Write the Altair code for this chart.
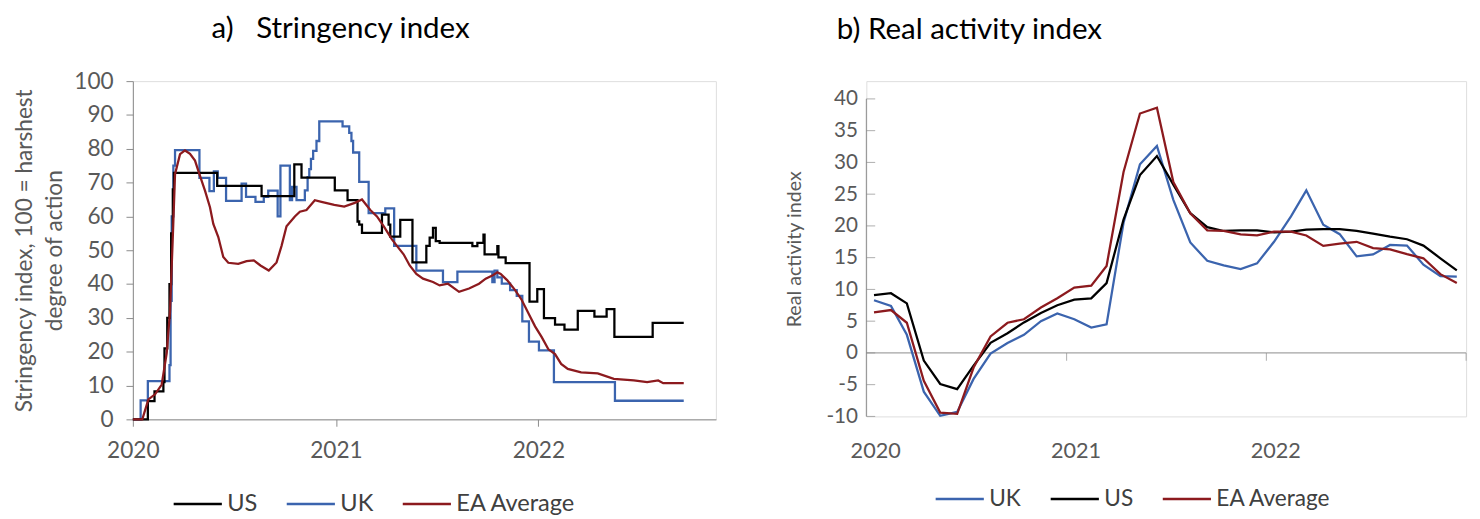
import altair as alt
import pandas as pd

BASE_DATE = "2020-01-01"

# ---- Panel a) Stringency index: (days since 1 Jan 2020, index value)
US_STEPS = [(0, 0), (27, 5.4), (39, 8.3), (55, 11), (57, 21), (62, 30), (66, 40), (69, 55), (72, 68),
            (74, 72.9), (152, 69), (232, 66), (291, 75.4), (304, 71.5), (364, 67.7), (387, 64.8),
            (405, 58.5), (408, 57.6), (413, 55.1), (449, 60.5), (461, 57.6), (464, 54), (482, 59),
            (504, 46.4), (529, 51.3), (535, 53.7), (541, 56.6), (546, 52.7), (553, 52.2), (612, 51.2),
            (621, 52.2), (632, 54.6), (634, 48.8), (657, 51.2), (659, 47.9), (672, 46.2), (715, 34.8),
            (729, 38.5), (741, 29.9), (761, 28), (778, 26.5), (802, 32.1), (832, 30.4), (854, 32.6),
            (868, 24.4), (937, 28.5), (993, 28.5)]

UK_STEPS = [(0, 0), (14, 5.6), (27, 11.3), (66, 16), (68, 35), (70, 60), (73, 75), (76, 79.6),
            (120, 71.4), (138, 67.5), (146, 73.3), (153, 71.4), (168, 64.6), (196, 69.7), (204, 65.8),
            (221, 64.3), (236, 65.8), (244, 67.6), (261, 60.0), (266, 75.0), (283, 64.8), (287, 68.7),
            (295, 64.8), (310, 67.7), (315, 71.6), (318, 74), (321, 77), (325, 79.4), (331, 82.3),
            (336, 88.1), (378, 86.6), (390, 84.7), (394, 82.3), (397, 78.9), (408, 70.2), (425, 61),
            (455, 62.4), (471, 51.3), (511, 44), (559, 40.6), (585, 43.7), (648, 40.6), (652, 44),
            (657, 42), (665, 40.1), (680, 38.2), (692, 36.5), (702, 29), (714, 23), (732, 20.4),
            (759, 11.0), (869, 5.5), (993, 5.5)]

EA_DAILY = [(0, 0), (17, 0), (28, 5.9), (40, 7.4), (52, 10.3), (61, 19.6), (67, 32), (72, 54),
            (76, 72.5), (85, 78.4), (94, 79.5), (103, 78.5), (112, 76.5), (121, 72), (130, 67.6),
            (139, 62.7), (145, 57.8), (154, 53.9), (163, 48), (172, 46.3), (190, 46), (205, 46.8),
            (218, 47), (230, 45.5), (245, 44), (259, 46.4), (268, 51.3), (277, 57.1), (292, 60),
            (301, 61.4), (313, 61.9), (328, 64.8), (340, 64.3), (363, 63.4), (381, 62.9), (400, 64),
            (413, 65), (428, 61.9), (440, 60), (452, 57.1), (467, 53.2), (476, 51.3), (488, 48.8),
            (499, 45.5), (511, 43), (523, 41.6), (541, 40.6), (553, 39.6), (568, 40.1), (588, 37.7),
            (606, 38.7), (624, 40.1), (636, 41.6), (648, 42.5), (657, 43.5), (663, 43), (675, 41.1),
            (689, 38.2), (701, 35.3), (713, 31.4), (725, 27.5), (737, 24.3), (749, 20.7), (761, 19.3),
            (772, 16.4), (784, 14.9), (808, 13.9), (838, 13.6), (867, 12.0), (903, 11.5), (927, 11.0),
            (947, 11.5), (956, 10.7), (993, 10.7)]

# ---- Panel b) Real activity index, monthly Jan 2020 - Dec 2022
MONTHS = [f"{y}-{m:02d}-15" for y in (2020, 2021, 2022) for m in range(1, 13)]
RA_UK = [8.3, 7.4, 2.85, -6.1, -9.9, -9.3, -4.1, -0.1, 1.55, 2.85, 5.0, 6.2,
         5.3, 4.0, 4.5, 20.5, 29.7, 32.6, 24.1, 17.4, 14.5, 13.8, 13.2, 14.1,
         17.5, 21.5, 25.6, 20.2, 18.7, 15.2, 15.5, 17.0, 16.9, 13.9, 12.1, 12.0]
RA_US = [9.1, 9.4, 7.8, -1.2, -4.9, -5.7, -2.0, 1.6, 3.1, 4.8, 6.3, 7.5,
         8.4, 8.6, 11.0, 21.0, 28.0, 31.0, 26.5, 22.0, 19.8, 19.2, 19.3, 19.3,
         19.0, 19.1, 19.4, 19.5, 19.5, 19.2, 18.8, 18.3, 17.9, 16.9, 14.9, 13.0]
RA_EA = [6.4, 6.75, 4.75, -4.4, -9.4, -9.6, -2.3, 2.6, 4.75, 5.3, 7.15, 8.6,
         10.3, 10.6, 13.7, 28.5, 37.7, 38.6, 26.9, 22.0, 19.3, 19.2, 18.65, 18.5,
         19.1, 19.1, 18.5, 16.85, 17.2, 17.5, 16.5, 16.3, 15.55, 14.9, 12.4, 11.0]

LEFT_ORDER = ["US", "UK", "EA Average"]
RIGHT_ORDER = ["UK", "US", "EA Average"]
COLORS = {"US": "#000000", "UK": "#3B64AE", "EA Average": "#8C1A1E"}
LEFT_Y_TICKS = list(range(0, 101, 10))
RIGHT_Y_TICKS = list(range(-10, 41, 5))
RIGHT_Y_RANGE = [-10, 40]
RIGHT_YEAR_TICKS = ["2021-01-01", "2022-01-01", "2023-01-01"]

GRAY = "#8a8a8a"
LABEL = "#595959"
FONT = "Lato"


def daily_frame(pairs, name):
    days, vals = zip(*pairs)
    dates = pd.Timestamp(BASE_DATE) + pd.to_timedelta(list(days), unit="D")
    return pd.DataFrame({"date": dates, "value": list(vals), "series": name})


us_df = daily_frame(US_STEPS, "US")
uk_df = daily_frame(UK_STEPS, "UK")
ea_df = daily_frame(EA_DAILY, "EA Average")

month_dates = pd.to_datetime(MONTHS)
ra_uk = pd.DataFrame({"date": month_dates, "value": RA_UK, "series": "UK"})
ra_us = pd.DataFrame({"date": month_dates, "value": RA_US, "series": "US"})
ra_ea = pd.DataFrame({"date": month_dates, "value": RA_EA, "series": "EA Average"})

years = [alt.DateTime(year=y, month=1, date=1) for y in (2020, 2021, 2022)]

TITLE_STYLE = dict(anchor="start", frame="group", fontSize=30, font=FONT,
                   fontWeight="normal", color="#000000")
LEGEND_STYLE = dict(orient="none", direction="horizontal", title=None, symbolType="stroke",
                    symbolSize=2401, symbolStrokeWidth=2.5, labelFont=FONT,
                    labelColor="#404040", columnPadding=24, labelOffset=4, padding=0)

# ---------------- Left panel ----------------
lx = alt.X("date:T",
           scale=alt.Scale(domain=[alt.DateTime(year=2020, month=1, date=1),
                                   alt.DateTime(year=2022, month=11, date=17)]),
           axis=alt.Axis(values=years, format="%Y", title=None, tickSize=7, labelPadding=14,
                         labelFontSize=23, labelColor=LABEL, domainColor=GRAY, tickColor=GRAY,
                         labelFlush=False, grid=False))
ly = alt.Y("value:Q", scale=alt.Scale(domain=[0, 100], nice=False),
           axis=alt.Axis(values=LEFT_Y_TICKS, title=["Stringency index, 100 = harshest", "degree of action"],
                         titleFontSize=23, titleColor=LABEL, titleFontWeight="normal", titleLineHeight=30,
                         titlePadding=8, tickSize=7, labelPadding=13, labelFontSize=23, labelColor=LABEL,
                         domainColor=GRAY, tickColor=GRAY, grid=False))
lcolor = alt.Color("series:N",
                   scale=alt.Scale(domain=LEFT_ORDER, range=[COLORS[s] for s in LEFT_ORDER]),
                   legend=alt.Legend(legendX=40, legendY=404, labelFontSize=24, **LEGEND_STYLE))

left_uk = alt.Chart(uk_df).mark_line(interpolate="step-after", strokeWidth=2.3).encode(x=lx, y=ly, color=lcolor)
left_us = alt.Chart(us_df).mark_line(interpolate="step-after", strokeWidth=2.3).encode(x=lx, y=ly, color=lcolor)
left_ea = alt.Chart(ea_df).mark_line(strokeWidth=2.3).encode(x=lx, y=ly, color=lcolor)

left = alt.layer(left_uk, left_us, left_ea).properties(
    width=593, height=344,
    title=alt.TitleParams(text="a)\u00a0\u00a0\u00a0Stringency index", dx=80, offset=27, **TITLE_STYLE))

# ---------------- Right panel ----------------
rx = alt.X("date:T",
           scale=alt.Scale(domain=[alt.DateTime(year=2020, month=1, date=1),
                                   alt.DateTime(year=2023, month=1, date=1)]),
           axis=alt.Axis(values=years, format="%Y", title=None, domain=False, ticks=False, tickSize=0,
                         labelPadding=25, labelOffset=9, labelFontSize=22, labelColor=LABEL,
                         labelFlush=False, grid=False))
# scale runs a little above 40 so that the plot top lines up with panel a)
ry = alt.Y("value:Q", scale=alt.Scale(domain=[-10, 42.8], nice=False),
           axis=alt.Axis(values=RIGHT_Y_TICKS, title="Real activity index", titleFontSize=20,
                         titleColor=LABEL, titleFontWeight="normal", titlePadding=22,
                         domain=False, ticks=False, tickSize=0, labelPadding=9, labelFontSize=21,
                         labelColor=LABEL, labelExpr="toString(datum.value)", grid=False))
rcolor = alt.Color("series:N",
                   scale=alt.Scale(domain=RIGHT_ORDER, range=[COLORS[s] for s in RIGHT_ORDER]),
                   legend=alt.Legend(legendX=69, legendY=399, labelFontSize=23, **LEGEND_STYLE))

zero_rule = alt.Chart(pd.DataFrame({"value": [0]})).mark_rule(color=GRAY, strokeWidth=1).encode(y=ry)
y_domain = alt.Chart(pd.DataFrame({"value": [RIGHT_Y_RANGE[0]], "hi": [RIGHT_Y_RANGE[1]]})).mark_rule(
    color=GRAY, strokeWidth=1).encode(x=alt.value(0), y=ry, y2="hi:Q")
year_ticks = alt.Chart(pd.DataFrame({"date": pd.to_datetime(RIGHT_YEAR_TICKS), "value": 0})).mark_tick(
    orient="vertical", size=8, thickness=1, color=GRAY, yOffset=4).encode(x=rx, y=ry)
y_ticks = alt.Chart(pd.DataFrame({"value": RIGHT_Y_TICKS})).mark_tick(
    orient="horizontal", size=9, thickness=1, color=GRAY, xOffset=4.5).encode(y=ry, x=alt.value(0))

right_uk = alt.Chart(ra_uk).mark_line(strokeWidth=2.3).encode(x=rx, y=ry, color=rcolor)
right_us = alt.Chart(ra_us).mark_line(strokeWidth=2.3).encode(x=rx, y=ry, color=rcolor)
right_ea = alt.Chart(ra_ea).mark_line(strokeWidth=2.3).encode(x=rx, y=ry, color=rcolor)

right = alt.layer(zero_rule, y_domain, year_ticks, y_ticks, right_uk, right_us, right_ea).properties(
    width=610, height=341,
    title=alt.TitleParams(text="b) Real activity index", dx=-30, offset=37, **TITLE_STYLE))

chart = (alt.hconcat(left, right, spacing=68)
         .resolve_scale(color="independent")
         .resolve_legend(color="independent")
         .properties(padding={"left": 5, "right": 5, "top": 1, "bottom": 0})
         .configure_view(stroke=None)
         .configure_axis(labelFont=FONT, titleFont=FONT)
         .configure(font=FONT, background="white"))

chart.save("out.html", embed_options={"renderer": "svg", "actions": False})
